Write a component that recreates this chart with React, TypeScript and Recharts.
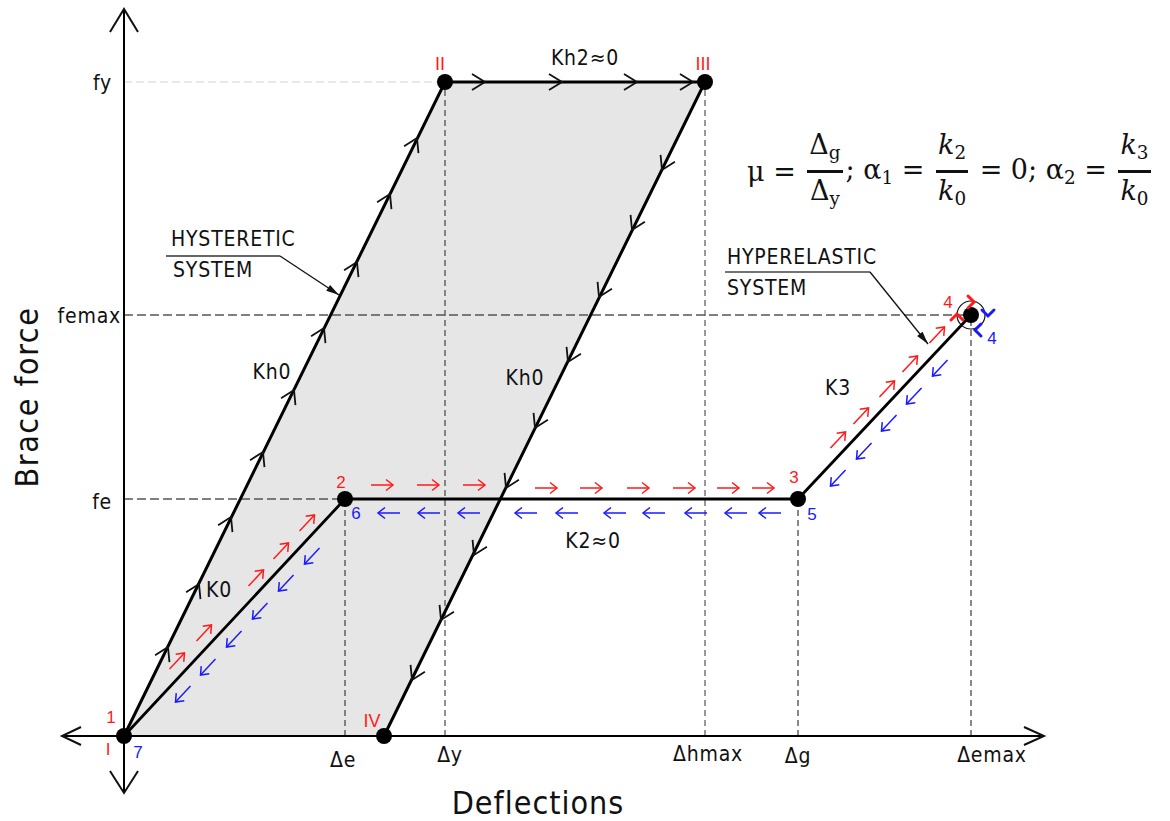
import React from 'react';
import { ComposedChart, XAxis, YAxis, Area, Line, Scatter, ReferenceLine, ReferenceDot } from 'recharts';

// ---------- key values (deflections on x, brace force on y) ----------
const De = 221;      // Δe
const DIV = 260;     // point IV
const Dy = 321;      // Δy
const Dhmax = 581;   // Δhmax
const Dg = 674;      // Δg
const Demax = 847;   // Δemax
const fe = 237;
const femax = 421;
const fy = 654;

// axis extents (arrow tips) and view window
const X_MIN = -62, X_MAX = 920, Y_MIN = -57, Y_MAX = 727;
const VIEW_X = [-124, 1046];
const VIEW_Y = [-85, 736];

// ---------- series ----------
const hystereticLoop = [
  { x: 0, y: 0 }, { x: Dy, y: fy }, { x: Dhmax, y: fy }, { x: DIV, y: 0 },
];
const hyperelasticPath = [
  { x: 0, y: 0 }, { x: De, y: fe }, { x: Dg, y: fe }, { x: Demax, y: femax },
];
const loopFill = [
  { x: 0, band: [0, 0] },
  { x: DIV, band: [0, 530] },
  { x: Dy, band: [124, fy] },
  { x: Dhmax, band: [fy, fy] },
];
const keyPoints = [
  { x: 0, y: 0 }, { x: Dy, y: fy }, { x: Dhmax, y: fy }, { x: DIV, y: 0 },
  { x: De, y: fe }, { x: Dg, y: fe }, { x: Demax, y: femax },
];

// chevrons on the hysteretic loop
const hystUpX = [44, 75, 107, 139, 170, 200, 233, 266, 293];
const hystUpY = [89, 152, 219, 284, 346, 408, 474, 542, 598];
const hystTopX = [361, 438, 513, 569];
const hystDownX = [538, 508, 475, 444, 411, 382, 350, 317, 288];
const hystDownY = [566, 506, 439, 374, 308, 248, 181, 116, 56];

// red (loading) arrows on the hyperelastic path
const redK0X = [53, 80, 132, 157, 183];
const redK0Y = [75, 103, 158, 185, 213];
const redK2X = [258, 304, 350, 422, 467, 514, 560, 604, 639];
const redK2Y = [251, 251, 251, 248, 248, 248, 248, 248, 248];
const redK3X = [714, 737, 763, 786, 813];
const redK3Y = [296, 320, 347, 372, 401];
// blue (unloading) arrows
const blueK3X = [714, 740, 765, 790, 816];
const blueK3Y = [258, 285, 313, 340, 368];
const blueK2X = [265, 305, 345, 402, 443, 491, 530, 572, 612, 646];
const blueK2Y = 223;
const blueK0X = [59, 84, 110, 136, 162, 188];
const blueK0Y = [42, 69, 97, 125, 153, 180];

// leaders
const hystLeader = [{ x: 156, y: 480 }, { x: 215, y: 441 }];
const hystUnderline = [{ x: 42, y: 480 }, { x: 156, y: 480 }];
const hyperLeader = [{ x: 746, y: 464 }, { x: 804, y: 392 }];
const hyperUnderline = [{ x: 601, y: 464 }, { x: 746, y: 464 }];

// ---------- text ----------
const annotations = [
  { id: 'fy', text: 'fy', x: 0, y: fy },
  { id: 'femax', text: 'femax', x: 0, y: femax },
  { id: 'fe', text: 'fe', x: 0, y: fe },
  { id: 'De', text: 'Δe', x: De, y: 0 },
  { id: 'Dy', text: 'Δy', x: Dy, y: 0 },
  { id: 'Dhmax', text: 'Δhmax', x: Dhmax, y: 0 },
  { id: 'Dg', text: 'Δg', x: Dg, y: 0 },
  { id: 'Demax', text: 'Δemax', x: Demax, y: 0 },
  { id: 'n1', text: '1', x: 0, y: 0 },
  { id: 'rI', text: 'I', x: 0, y: 0 },
  { id: 'n7', text: '7', x: 0, y: 0 },
  { id: 'n2', text: '2', x: De, y: fe },
  { id: 'n6', text: '6', x: De, y: fe },
  { id: 'n3', text: '3', x: Dg, y: fe },
  { id: 'n5', text: '5', x: Dg, y: fe },
  { id: 'n4r', text: '4', x: Demax, y: femax },
  { id: 'n4b', text: '4', x: Demax, y: femax },
  { id: 'rII', text: 'II', x: Dy, y: fy },
  { id: 'rIII', text: 'III', x: Dhmax, y: fy },
  { id: 'rIV', text: 'IV', x: DIV, y: 0 },
  { id: 'Kh2', text: 'Kh2≈0', x: 461, y: 678 },
  { id: 'Kh0a', text: 'Kh0', x: 148, y: 364 },
  { id: 'Kh0b', text: 'Kh0', x: 401, y: 358 },
  { id: 'K0', text: 'K0', x: 95, y: 146 },
  { id: 'K3', text: 'K3', x: 714, y: 348 },
  { id: 'K2', text: 'K2≈0', x: 469, y: 195 },
  { id: 'hys1', text: 'HYSTERETIC', x: 47, y: 497 },
  { id: 'hys2', text: 'SYSTEM', x: 49, y: 466 },
  { id: 'hyp1', text: 'HYPERELASTIC', x: 603, y: 479 },
  { id: 'hyp2', text: 'SYSTEM', x: 603, y: 448 },
];

const TECH = "'DejaVu Sans Condensed', 'DejaVu Sans', sans-serif";
const NUM = "'Liberation Sans', Arial, sans-serif";
const RED = '#ff1a1a';
const BLUE = '#1a1aff';
const INK = '#111';

type St = { dx: number; dy: number; color?: string; size?: number; font?: string; anchor?: string; base?: string; ls?: number };
const tick = (dx: number, dy: number, anchor = 'middle'): St => ({ dx, dy, color: INK, size: 21, font: TECH, anchor, base: 'alphabetic', ls: 0.8 });
const num = (dx: number, dy: number, color: string): St => ({ dx, dy, color, size: 17, font: NUM, anchor: 'middle', base: 'central' });
const lbl = (anchor = 'middle'): St => ({ dx: 0, dy: 0, color: INK, size: 21, font: TECH, anchor, base: 'central', ls: 0.8 });

const styleOf: Record<string, St> = {
  fy: tick(-12, 8, 'end'),
  femax: tick(-3, 8, 'end'),
  fe: tick(-12, 10, 'end'),
  De: tick(-2, 31),
  Dy: tick(5, 26),
  Dhmax: tick(3, 25),
  Dg: tick(0, 27),
  Demax: tick(21, 26),
  n1: num(-13, -19, RED),
  rI: num(-16, 13, RED),
  n7: num(14, 16, BLUE),
  n2: num(-4, -17, RED),
  n6: num(11, 14, BLUE),
  n3: num(-4, -22, RED),
  n5: num(14, 15, BLUE),
  n4r: num(-23, -13, RED),
  n4b: num(21, 23, BLUE),
  rII: { ...num(-5, -18, RED), size: 18 },
  rIII: { ...num(-2, -18, RED), size: 18 },
  rIV: { ...num(-12, -15, RED), size: 18 },
  Kh2: lbl(),
  Kh0a: lbl(),
  Kh0b: lbl(),
  K0: lbl(),
  K3: lbl(),
  K2: lbl(),
  hys1: lbl('start'),
  hys2: lbl('start'),
  hyp1: lbl('start'),
  hyp2: lbl('start'),
};

// ---------- helpers ----------
const pts = (xs: number[], ys: number[] | number, extra: Record<string, any> = {}) =>
  xs.map((x, i) => ({ x, y: Array.isArray(ys) ? ys[i] : ys, ...extra }));
const angleOf = (a: { x: number; y: number }, b: { x: number; y: number }) =>
  (Math.atan2(-(b.y - a.y), b.x - a.x) * 180) / Math.PI;

const segUp = angleOf(hystereticLoop[0], hystereticLoop[1]);
const segDown = angleOf(hystereticLoop[2], hystereticLoop[3]);
const segK0 = angleOf(hyperelasticPath[0], hyperelasticPath[1]);
const segK3 = angleOf(hyperelasticPath[2], hyperelasticPath[3]);

const chevrons = [
  ...pts(hystUpX, hystUpY, { a: segUp }),
  ...pts(hystTopX, fy, { a: 0 }),
  ...pts(hystDownX, hystDownY, { a: segDown }),
];
const redArrows = [
  ...pts(redK0X, redK0Y, { a: segK0 }),
  ...pts(redK2X, redK2Y, { a: 0 }),
  ...pts(redK3X, redK3Y, { a: segK3 }),
];
const blueArrows = [
  ...pts(blueK3X, blueK3Y, { a: segK3 + 180 }),
  ...pts(blueK2X, blueK2Y, { a: 180 }),
  ...pts(blueK0X, blueK0Y, { a: segK0 + 180 }),
];
const turnArrows = [
  { x: 850, y: 434, a: 0, c: RED },
  { x: 833, y: 422, a: -90, c: RED },
  { x: 864, y: 420, a: 90, c: BLUE },
  { x: 851, y: 406, a: 180, c: BLUE },
];
const axisHeads = [
  { x: X_MIN, y: 0, a: 180, l: 19, w: 9 },
  { x: X_MAX, y: 0, a: 0, l: 20, w: 9 },
  { x: 0, y: Y_MAX, a: -90, l: 23, w: 14 },
  { x: 0, y: Y_MIN, a: 90, l: 22, w: 14 },
];
const leaderHeads = [
  { x: hystLeader[1].x, y: hystLeader[1].y, a: angleOf(hystLeader[0], hystLeader[1]) },
  { x: hyperLeader[1].x, y: hyperLeader[1].y, a: angleOf(hyperLeader[0], hyperLeader[1]) },
];

// ---------- shapes ----------
const Chevron = (p: any) => (
  <g transform={`translate(${p.cx},${p.cy}) rotate(${p.payload.a})`}>
    <polyline points="-13,-8 0,0 -13,8" fill="none" stroke={INK} strokeWidth={1.8} />
  </g>
);
const mkArrow = (color: string) => (p: any) => (
  <g transform={`translate(${p.cx},${p.cy}) rotate(${p.payload.a})`}>
    <line x1={-11} y1={0} x2={11} y2={0} stroke={color} strokeWidth={1.5} />
    <polyline points="4,-5.5 11,0 4,5.5" fill="none" stroke={color} strokeWidth={1.5} />
  </g>
);
const TurnHead = (p: any) => (
  <g transform={`translate(${p.cx},${p.cy}) rotate(${p.payload.a})`}>
    <polyline points="-6,-6 0,0 -6,6" fill="none" stroke={p.payload.c} strokeWidth={3} strokeLinecap="round" />
  </g>
);
const AxisHead = (p: any) => {
  const { l, w, a } = p.payload;
  return (
    <g transform={`translate(${p.cx},${p.cy}) rotate(${a})`}>
      <polyline points={`${-l},${-w} 0,0 ${-l},${w}`} fill="none" stroke={INK} strokeWidth={2} />
    </g>
  );
};
const LeaderHead = (p: any) => (
  <g transform={`translate(${p.cx},${p.cy}) rotate(${p.payload.a})`}>
    <polygon points="0,0 -13,-3.5 -13,3.5" fill={INK} />
  </g>
);
const Dot = (p: any) => <circle cx={p.cx} cy={p.cy} r={8} fill="#000" />;
const Label = (p: any) => {
  const d = p.payload;
  const s = styleOf[d.id];
  return (
    <text
      x={p.cx + s.dx}
      y={p.cy + s.dy}
      fill={s.color}
      fontSize={s.size}
      fontFamily={s.font}
      textAnchor={s.anchor as any}
      dominantBaseline={s.base as any}
      letterSpacing={s.ls ?? 0}
    >
      {d.text}
    </text>
  );
};

const Frac = ({ num: n, den }: { num: React.ReactNode; den: React.ReactNode }) => (
  <span style={{ display: 'inline-flex', flexDirection: 'column', alignItems: 'center', margin: '0 3px', lineHeight: '35px' }}>
    <span style={{ padding: '0 2px' }}>{n}</span>
    <span style={{ borderTop: '3px solid #111', padding: '0 2px', alignSelf: 'stretch', textAlign: 'center' }}>{den}</span>
  </span>
);
const sub = { fontSize: '0.68em', verticalAlign: '-0.25em' } as React.CSSProperties;

export default function App() {
  return (
    <div style={{ position: 'absolute', left: 0, top: 0, width: 1170, height: 821, background: '#fff', overflow: 'hidden' }}>
      <ComposedChart width={1170} height={821} margin={{ top: 0, right: 0, bottom: 0, left: 0 }}>
        <XAxis type="number" dataKey="x" domain={VIEW_X} allowDataOverflow hide />
        <YAxis type="number" dataKey="y" domain={VIEW_Y} allowDataOverflow hide />

        <Area data={loopFill} dataKey="band" type="linear" fill="#e6e6e6" fillOpacity={1} stroke="none" isAnimationActive={false} />

        <ReferenceLine segment={[{ x: 0, y: fy }, { x: Dy, y: fy }]} stroke="#d2d2d2" strokeDasharray="8 4" strokeWidth={1} />
        <ReferenceLine segment={[{ x: Dy, y: 0 }, { x: Dy, y: fy }]} stroke="#222" strokeDasharray="6 4" strokeWidth={1} />
        <ReferenceLine segment={[{ x: Dhmax, y: 0 }, { x: Dhmax, y: fy }]} stroke="#333" strokeDasharray="6 4" strokeWidth={1} />
        <ReferenceLine segment={[{ x: 0, y: femax }, { x: Demax, y: femax }]} stroke="#555" strokeDasharray="9 4" strokeWidth={1.4} />
        <ReferenceLine segment={[{ x: 0, y: fe }, { x: De, y: fe }]} stroke="#555" strokeDasharray="9 4" strokeWidth={1.4} />
        <ReferenceLine segment={[{ x: De, y: 0 }, { x: De, y: fe }]} stroke="#555" strokeDasharray="6 4" strokeWidth={1.4} />
        <ReferenceLine segment={[{ x: Dg, y: 0 }, { x: Dg, y: fe }]} stroke="#111" strokeDasharray="6 4" strokeWidth={1} />
        <ReferenceLine segment={[{ x: Demax, y: 0 }, { x: Demax, y: femax }]} stroke="#111" strokeDasharray="6 4" strokeWidth={1} />
        <ReferenceLine segment={[{ x: X_MIN, y: 0 }, { x: X_MAX, y: 0 }]} stroke="#000" strokeWidth={2} />
        <ReferenceLine segment={[{ x: 0, y: Y_MIN }, { x: 0, y: Y_MAX }]} stroke="#000" strokeWidth={2} />
        <ReferenceLine segment={hystUnderline} stroke="#666" strokeWidth={2} />
        <ReferenceLine segment={hyperUnderline} stroke="#444" strokeWidth={1.6} />

        <Line data={hystereticLoop} dataKey="y" type="linear" stroke="#000" strokeWidth={3} dot={false} activeDot={false} isAnimationActive={false} />
        <Line data={hyperelasticPath} dataKey="y" type="linear" stroke="#000" strokeWidth={2.8} dot={false} activeDot={false} isAnimationActive={false} />
        <Line data={hystLeader} dataKey="y" type="linear" stroke="#111" strokeWidth={1.3} dot={false} activeDot={false} isAnimationActive={false} />
        <Line data={hyperLeader} dataKey="y" type="linear" stroke="#111" strokeWidth={1.3} dot={false} activeDot={false} isAnimationActive={false} />

        <ReferenceDot x={Demax} y={femax} r={14} fill="none" stroke="#111" strokeWidth={1.2} />

        <Scatter data={axisHeads} shape={AxisHead} isAnimationActive={false} />
        <Scatter data={leaderHeads} shape={LeaderHead} isAnimationActive={false} />
        <Scatter data={chevrons} shape={Chevron} isAnimationActive={false} />
        <Scatter data={redArrows} shape={mkArrow(RED)} isAnimationActive={false} />
        <Scatter data={blueArrows} shape={mkArrow(BLUE)} isAnimationActive={false} />
        <Scatter data={keyPoints} shape={Dot} isAnimationActive={false} />
        <Scatter data={turnArrows} shape={TurnHead} isAnimationActive={false} />
        <Scatter data={annotations} shape={Label} isAnimationActive={false} />
      </ComposedChart>

      <div style={{ position: 'absolute', left: 27, top: 397, transform: 'translate(-50%, -50%) rotate(-90deg)', transformOrigin: 'center', fontFamily: TECH, fontSize: 32, letterSpacing: 1.5, color: INK, whiteSpace: 'nowrap' }}>
        Brace force
      </div>
      <div style={{ position: 'absolute', left: 538, top: 803, transform: 'translate(-50%, -50%)', fontFamily: TECH, fontSize: 32, letterSpacing: 1, color: INK, whiteSpace: 'nowrap' }}>
        Deflections
      </div>

      <div style={{ position: 'absolute', left: 747, top: 127, display: 'flex', alignItems: 'center', fontFamily: "'DejaVu Serif', serif", fontSize: 27, color: INK, whiteSpace: 'nowrap' }}>
        <span>μ =&nbsp;</span>
        <Frac num={<>Δ<span style={sub}>g</span></>} den={<>Δ<span style={sub}>y</span></>} />
        <span>;&nbsp;α<span style={sub}>1</span> =&nbsp;</span>
        <Frac num={<><i>k</i><span style={sub}>2</span></>} den={<><i>k</i><span style={sub}>0</span></>} />
        <span>&nbsp;= 0;&nbsp;α<span style={sub}>2</span> =&nbsp;</span>
        <Frac num={<><i>k</i><span style={sub}>3</span></>} den={<><i>k</i><span style={sub}>0</span></>} />
      </div>
    </div>
  );
}
